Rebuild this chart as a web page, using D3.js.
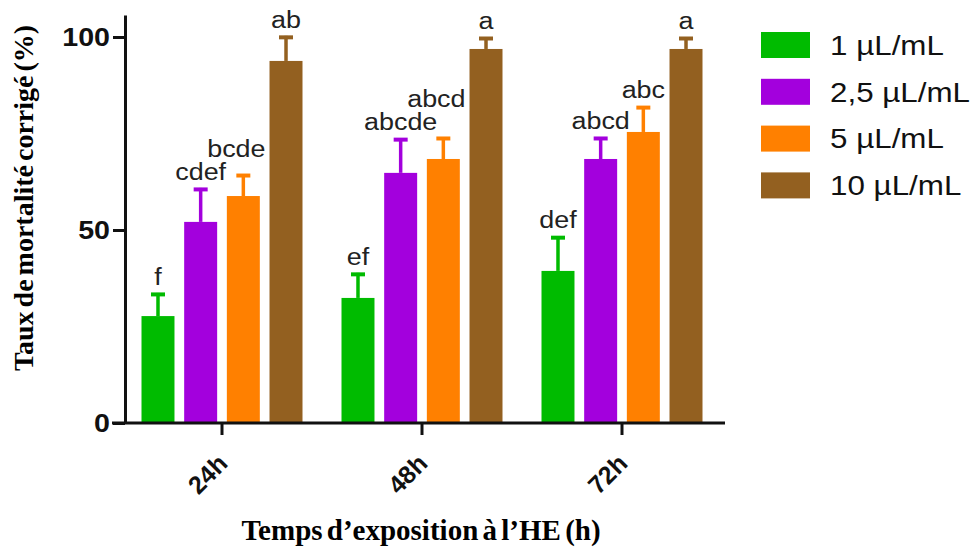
<!DOCTYPE html>
<html>
<head>
<meta charset="utf-8">
<script src="https://cdn.jsdelivr.net/npm/d3@7"></script>
<style>
  body { margin: 0; background: #fff; }
  svg { display: block; }
</style>
</head>
<body>
<svg id="chart" width="978" height="550"></svg>
<script>
// data
var times = ["24h", "48h", "72h"];
var doses = ["1 µL/mL", "2,5 µL/mL", "5 µL/mL", "10 µL/mL"];
var colors = ["#00bb00", "#a300dd", "#ff8000", "#936020"];

// mean mortality per dose, one array per time (same order as doses)
var means24 = [27.7, 52.1, 58.8, 93.8];
var means48 = [32.4, 64.8, 68.4, 96.9];
var means72 = [39.4, 68.4, 75.4, 96.9];

// upper end of the error bar
var errTop24 = [33.7, 60.9, 64.5, 100.3];
var errTop48 = [38.9, 73.8, 74.1, 100.0];
var errTop72 = [48.4, 74.1, 82.1, 100.0];

// letters of the statistical groups
var letters24 = ["f", "cdef", "bcde", "ab"];
var letters48 = ["ef", "abcde", "abcd", "a"];
var letters72 = ["def", "abcd", "abc", "a"];

var yTicks = [0, 50, 100];

var means = [means24, means48, means72];
var errTops = [errTop24, errTop48, errTop72];
var letters = [letters24, letters48, letters72];

var rows = [];
times.forEach(function(t, i) {
  doses.forEach(function(d, j) {
    rows.push({time: t, dose: d, color: colors[j], value: means[i][j], err: errTops[i][j], label: letters[i][j]});
  });
});

var svg = d3.select("#chart");

var x0 = d3.scaleBand().domain(times).range([122, 722]);
var x1 = d3.scaleBand().domain(doses).range([0, 161]).paddingInner(0.227);
var groupOffset = (x0.bandwidth() - 161) / 2;
var y = d3.scaleLinear().domain([0, 105.7]).range([423, 15]);

var axisX = 125;
var sans = "Liberation Sans, Arial, sans-serif";
var serif = "Liberation Serif, Times New Roman, serif";

// bars
var g = svg.append("g");
g.selectAll("rect.bar")
  .data(rows)
  .enter().append("rect")
  .attr("class", "bar")
  .attr("x", function(d) { return x0(d.time) + groupOffset + x1(d.dose); })
  .attr("y", function(d) { return y(d.value); })
  .attr("width", x1.bandwidth())
  .attr("height", function(d) { return y(0) - y(d.value); })
  .attr("fill", function(d) { return d.color; });

// error bars (upper half only)
function cx(d) { return x0(d.time) + groupOffset + x1(d.dose) + x1.bandwidth() / 2; }

g.selectAll("line.err")
  .data(rows)
  .enter().append("line")
  .attr("class", "err")
  .attr("x1", cx).attr("x2", cx)
  .attr("y1", function(d) { return y(d.value); })
  .attr("y2", function(d) { return y(d.err); })
  .attr("stroke", function(d) { return d.color; })
  .attr("stroke-width", 3.5);

g.selectAll("line.cap")
  .data(rows)
  .enter().append("line")
  .attr("class", "cap")
  .attr("x1", function(d) { return cx(d) - 7; })
  .attr("x2", function(d) { return cx(d) + 7; })
  .attr("y1", function(d) { return y(d.err) + 1.5; })
  .attr("y2", function(d) { return y(d.err) + 1.5; })
  .attr("stroke", function(d) { return d.color; })
  .attr("stroke-width", 4);

// letters above error bars, pushed up when they'd collide with the previous one
// (the source figure has its text a bit stretched sideways, hence the scale)
var stretch = 1.17;
var lab = g.selectAll("text.letter")
  .data(rows)
  .enter().append("text")
  .attr("class", "letter")
  .attr("text-anchor", "middle")
  .style("font-family", sans)
  .style("font-size", "23px")
  .style("fill", "#222")
  .text(function(d) { return d.label; });

var prev = null;
lab.each(function(d) {
  var w = this.getComputedTextLength() * stretch;
  var lx = cx(d), ly = y(d.err) - 8;
  if (prev && prev.time === d.time && lx - w / 2 < prev.right && ly > prev.y - 23) {
    ly = prev.y - 23;
    lx = lx - 7;
  }
  d3.select(this).attr("transform", "translate(" + lx + "," + ly + ") scale(" + stretch + ",1)");
  prev = {time: d.time, right: lx + w / 2, y: ly};
});

// y axis
var yAxis = svg.append("g")
  .attr("transform", "translate(" + axisX + ",0)")
  .call(d3.axisLeft(y).tickValues(yTicks).tickSize(12).tickSizeOuter(0).tickPadding(4));
yAxis.select(".domain").attr("stroke-width", 3).attr("stroke", "#111");
yAxis.selectAll(".tick line").attr("stroke-width", 3).attr("stroke", "#111");
yAxis.selectAll(".tick text")
  .attr("x", 0)
  .attr("transform", "translate(-15,0) scale(1.1,1)")
  .style("font-family", sans)
  .style("font-size", "26px")
  .style("font-weight", "bold")
  .attr("fill", "#111");

// x axis
var xAxis = svg.append("g")
  .attr("transform", "translate(0," + y(0) + ")")
  .call(d3.axisBottom(x0).tickSize(12).tickSizeOuter(0));
xAxis.select(".domain").remove();
xAxis.append("line")
  .attr("x1", axisX - 13).attr("x2", x0.range()[1] + 3)
  .attr("y1", 0).attr("y2", 0)
  .attr("stroke", "#111").attr("stroke-width", 3);
xAxis.selectAll(".tick line").attr("stroke-width", 3).attr("stroke", "#111");
xAxis.selectAll(".tick text")
  .attr("y", 0).attr("dy", 0)
  .attr("text-anchor", "end")
  .attr("transform", "translate(7,42) rotate(-45)")
  .style("font-family", sans)
  .style("font-size", "25px")
  .style("font-weight", "bold")
  .attr("fill", "#111");

// axis titles
svg.append("text")
  .attr("transform", "translate(33,198) rotate(-90)")
  .attr("text-anchor", "middle")
  .style("font-family", serif)
  .style("font-size", "28px")
  .style("font-weight", "bold")
  .style("word-spacing", "-3px")
  .text("Taux de mortalité corrigé (%)");

svg.append("text")
  .attr("x", 421)
  .attr("y", 540)
  .attr("text-anchor", "middle")
  .style("font-family", serif)
  .style("font-size", "29px")
  .style("font-weight", "bold")
  .style("word-spacing", "-3px")
  .text("Temps d\u2019exposition à l\u2019HE (h)");

// legend
var legend = svg.append("g").attr("transform", "translate(761,32)");
var item = legend.selectAll("g")
  .data(doses)
  .enter().append("g")
  .attr("transform", function(d, i) { return "translate(0," + i * 46.8 + ")"; });
item.append("rect")
  .attr("width", 49).attr("height", 26)
  .attr("fill", function(d, i) { return colors[i]; });
item.append("text")
  .attr("transform", "translate(69,13) scale(1.12,1)")
  .attr("dy", "0.35em")
  .style("font-family", sans)
  .style("font-size", "28px")
  .style("fill", "#111")
  .text(function(d) { return d; });
</script>
</body>
</html>
